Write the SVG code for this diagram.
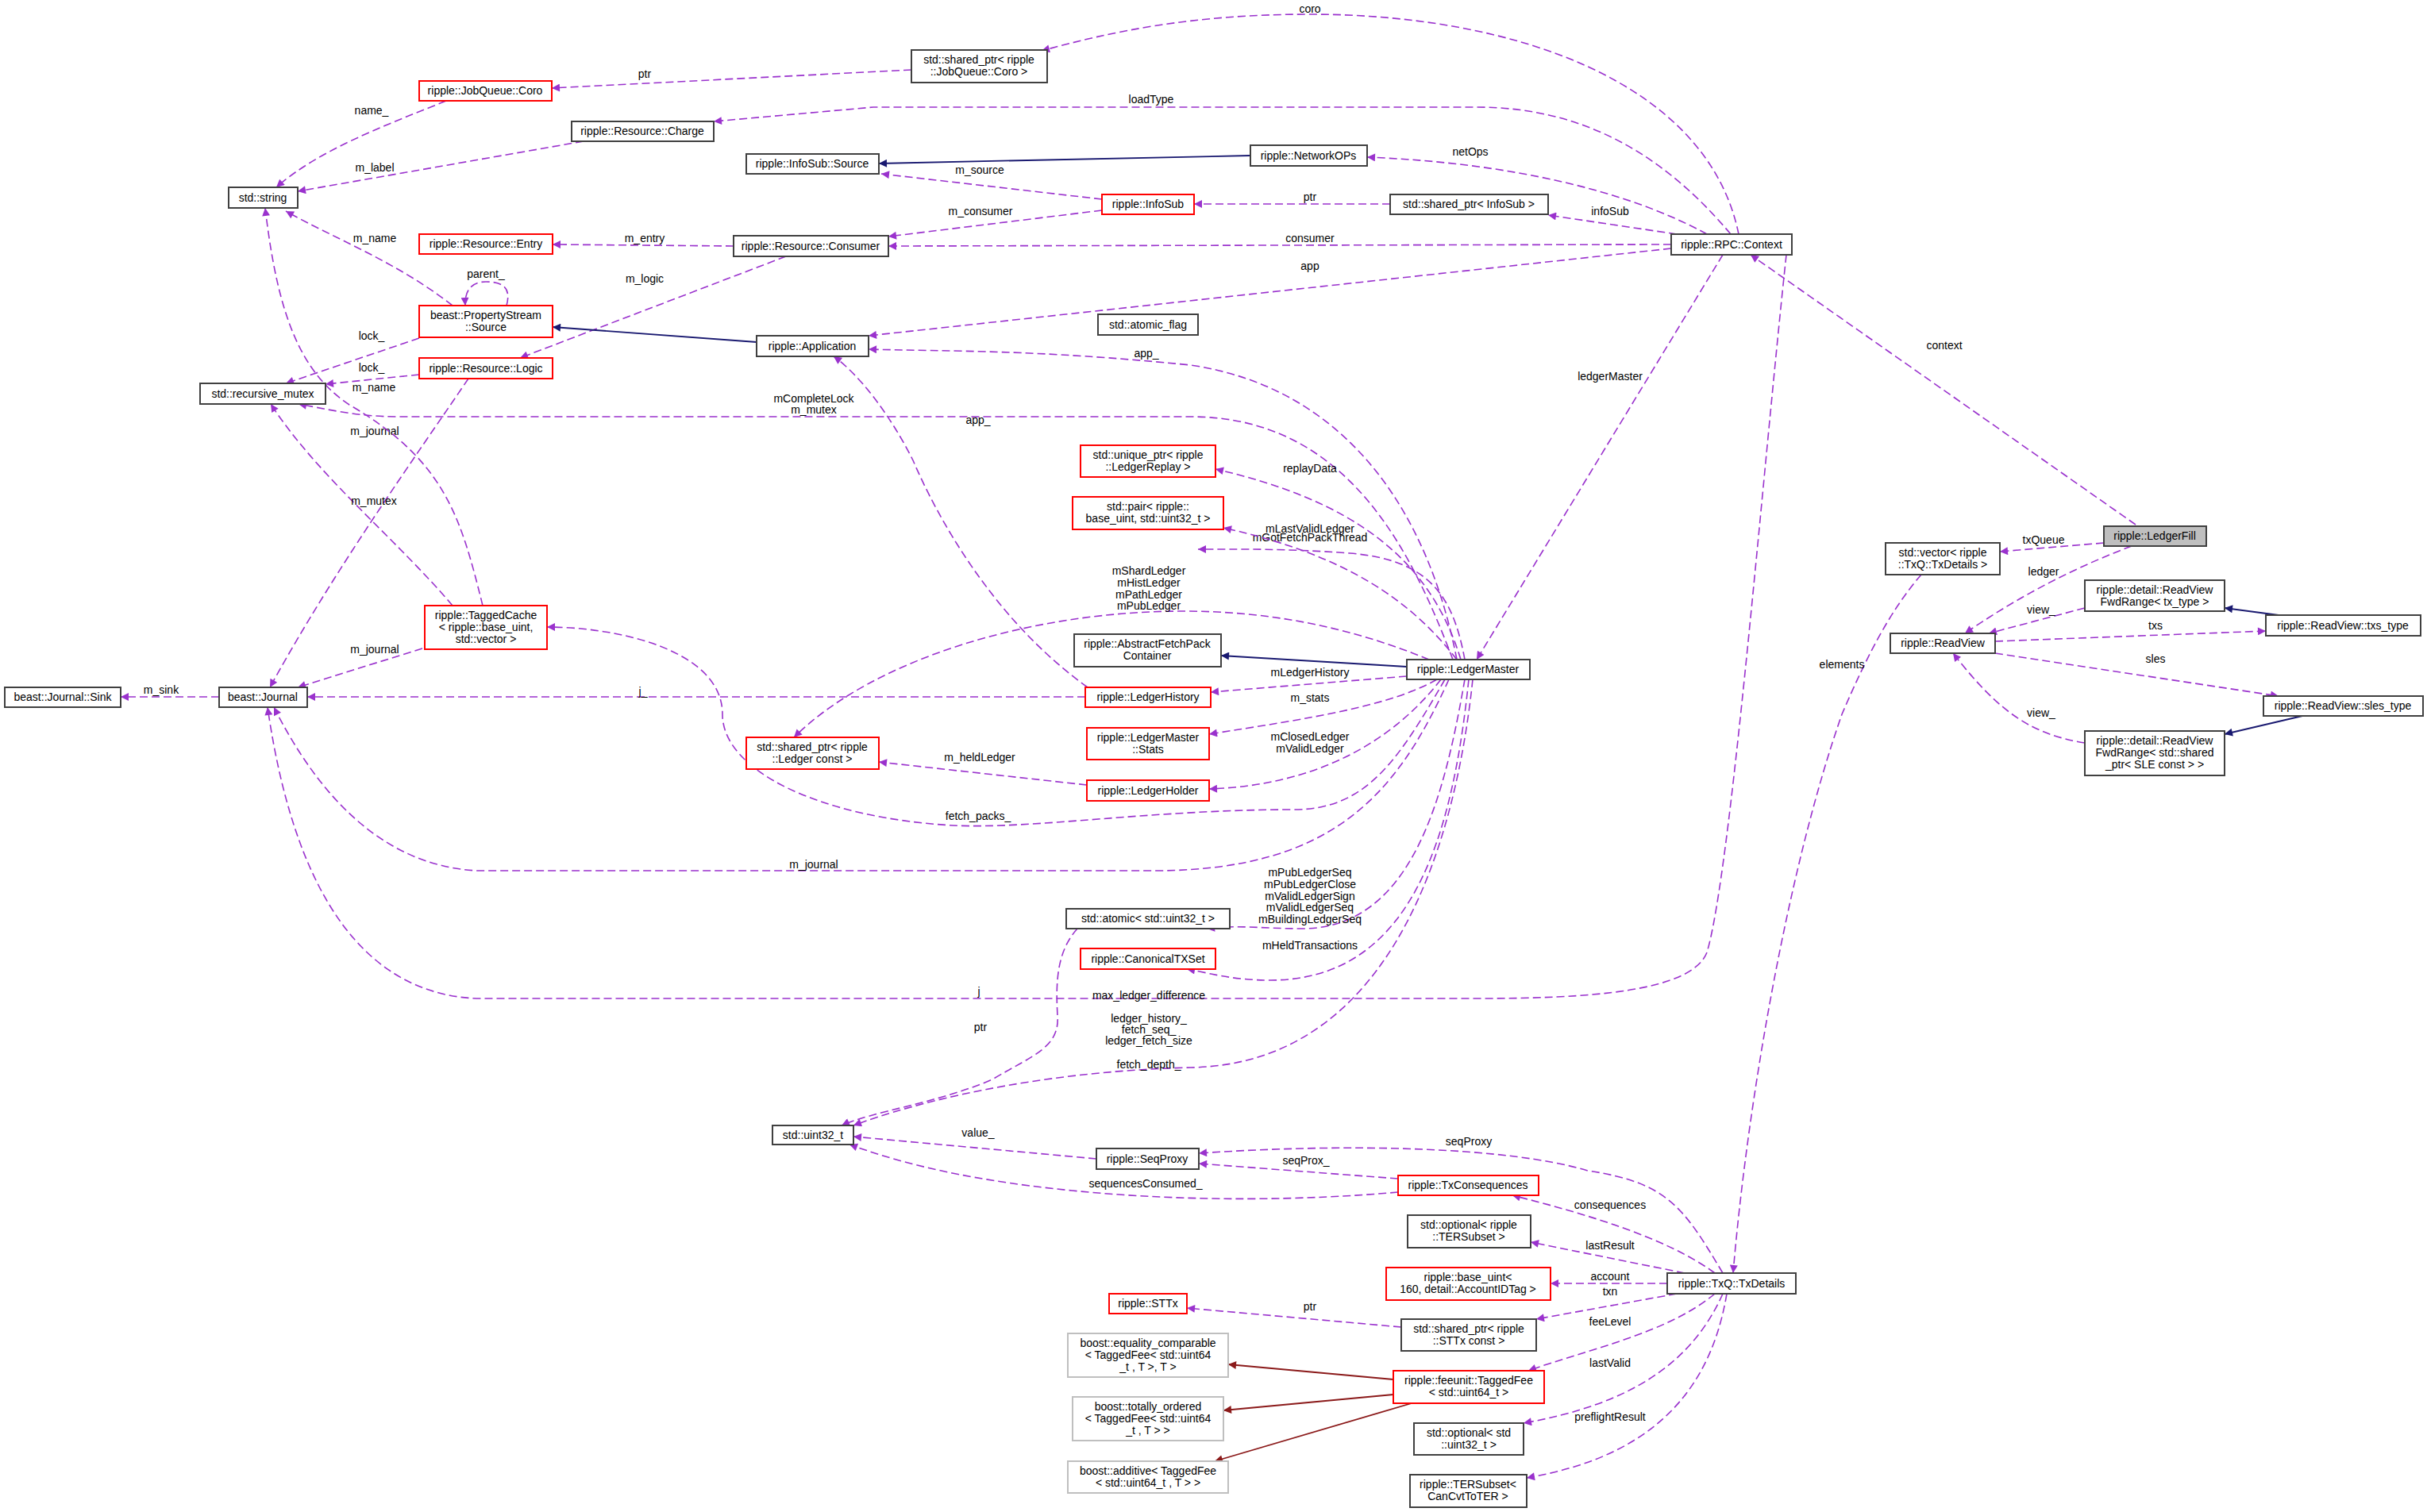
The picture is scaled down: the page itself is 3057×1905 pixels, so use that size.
<svg xmlns="http://www.w3.org/2000/svg" width="3057" height="1905" viewBox="0 0 3057 1905">
<style>
text{font-family:"Liberation Sans",Arial,sans-serif;font-size:14px;fill:#000}
.n rect{fill:#fff;stroke:#404040;stroke-width:2}
.r rect{stroke:#ff0000}
.g rect{stroke:#bfbfbf}
.f rect{fill:#bfbfbf}
.n text{text-anchor:middle}
.u{fill:none;stroke:#9a32cd;stroke-width:1.6;stroke-dasharray:10,5;marker-end:url(#au)}
.i{fill:none;stroke:#191970;stroke-width:1.8;marker-end:url(#ai)}
.t{fill:none;stroke:#8b1a1a;stroke-width:1.8;marker-end:url(#at)}
.l{text-anchor:middle}
</style>
<defs>
<marker id="au" viewBox="0 0 10 10" refX="10" refY="5" markerWidth="14" markerHeight="10" markerUnits="userSpaceOnUse" orient="auto"><path d="M0,0L10,5L0,10z" fill="#9a32cd"/></marker>
<marker id="ai" viewBox="0 0 10 10" refX="10" refY="5" markerWidth="14" markerHeight="10" markerUnits="userSpaceOnUse" orient="auto"><path d="M0,0L10,5L0,10z" fill="#191970"/></marker>
<marker id="at" viewBox="0 0 10 10" refX="10" refY="5" markerWidth="14" markerHeight="10" markerUnits="userSpaceOnUse" orient="auto"><path d="M0,0L10,5L0,10z" fill="#8b1a1a"/></marker>
</defs>
<rect width="3057" height="1905" fill="#fff"/>
<g id="edges">
<path class="u" d="M1148,88 L695,111"/><text x="812" y="98" class="l">ptr</text>
<path class="u" d="M2190,295 C2150,100 1900,18 1650,18 C1500,18 1400,40 1312,64"/><text x="1650" y="16" class="l">coro</text>
<path class="u" d="M2180,295 C2100,200 2000,135 1860,135 L1100,135 L899,153"/><text x="1450" y="130" class="l">loadType</text>
<path class="u" d="M735,178 L375,241"/><text x="472" y="216" class="l">m_label</text>
<path class="u" d="M562,127 C480,160 400,190 348,236"/><text x="468" y="144" class="l">name_</text>
<path class="i" d="M1575,196 L1107,206"/>
<path class="u" d="M2150,295 C2050,240 1900,205 1722,198"/><text x="1852" y="196" class="l">netOps</text>
<path class="u" d="M1388,251 L1110,219"/><text x="1234" y="219" class="l">m_source</text>
<path class="u" d="M1388,265 L1119,298"/><text x="1235" y="271" class="l">m_consumer</text>
<path class="u" d="M1751,257 L1504,257"/><text x="1650" y="253" class="l">ptr</text>
<path class="u" d="M2112,295 L1950,271"/><text x="2028" y="271" class="l">infoSub</text>
<path class="u" d="M2105,308 L1119,310"/><text x="1650" y="305" class="l">consumer</text>
<path class="u" d="M2105,313 L1094,423"/><text x="1650" y="340" class="l">app</text>
<path class="u" d="M924,310 L696,308"/><text x="812" y="305" class="l">m_entry</text>
<path class="u" d="M990,323 L655,451"/><text x="812" y="356" class="l">m_logic</text>
<path class="i" d="M953,431 L696,412"/>
<path class="u" d="M638,385 C645,360 630,355 612,355 C595,355 585,365 586,385"/><text x="612" y="350" class="l">parent_</text>
<path class="u" d="M570,385 C500,330 420,300 360,266"/><text x="472" y="305" class="l">m_name</text>
<path class="u" d="M528,426 L360,483"/><text x="468" y="428" class="l">lock_</text>
<path class="u" d="M528,472 L410,484"/><text x="468" y="468" class="l">lock_</text>
<path class="u" d="M590,477 C520,580 420,720 340,866"/><text x="472" y="548" class="l">m_journal</text>
<path class="u" d="M608,763 C580,650 560,580 440,510 C380,470 350,400 334,262"/><text x="471" y="493" class="l">m_name</text>
<path class="u" d="M570,763 C500,680 400,600 341,509"/><text x="471" y="636" class="l">m_mutex</text>
<path class="u" d="M532,817 L375,866"/><text x="472" y="823" class="l">m_journal</text>
<path class="u" d="M276,878 L152,878"/><text x="203" y="874" class="l">m_sink</text>
<path class="u" d="M1367,878 L387,878"/><text x="810" y="876" class="l">j_</text>
<path class="u" d="M1830,831 C1780,700 1700,525 1500,525 L500,525 C450,525 410,515 376,509"/><text x="1025" y="507" class="l">mCompleteLock</text><text x="1025" y="521" class="l">m_mutex</text>
<path class="u" d="M1835,831 C1800,650 1700,490 1500,460 C1300,440 1200,443 1094,440"/><text x="1444" y="450" class="l">app_</text>
<path class="u" d="M1370,866 C1250,780 1180,650 1150,580 C1120,520 1080,470 1050,449"/><text x="1232" y="534" class="l">app_</text>
<path class="u" d="M1845,831 C1830,750 1800,705 1700,697 C1620,691 1560,692 1509,692"/><text x="1650" y="682" class="l">mGotFetchPackThread</text>
<path class="u" d="M1840,831 C1800,700 1700,630 1531,591"/><text x="1650" y="595" class="l">replayData</text>
<path class="u" d="M1835,831 C1780,760 1700,700 1541,665"/><text x="1650" y="671" class="l">mLastValidLedger</text>
<path class="u" d="M1800,831 C1700,790 1600,770 1490,770 C1300,770 1100,830 1000,929"/><text x="1447" y="724" class="l">mShardLedger</text><text x="1447" y="739" class="l">mHistLedger</text><text x="1447" y="754" class="l">mPathLedger</text><text x="1447" y="768" class="l">mPubLedger</text>
<path class="i" d="M1772,840 L1538,826"/>
<path class="u" d="M1772,852 L1525,872"/><text x="1650" y="852" class="l">mLedgerHistory</text>
<path class="u" d="M1810,856 C1750,890 1650,905 1523,925"/><text x="1650" y="884" class="l">m_stats</text>
<path class="u" d="M1815,856 C1750,940 1650,990 1523,994"/><text x="1650" y="933" class="l">mClosedLedger</text><text x="1650" y="948" class="l">mValidLedger</text>
<path class="u" d="M1369,989 L1107,960"/><text x="1234" y="959" class="l">m_heldLedger</text>
<path class="u" d="M1820,856 C1760,960 1720,1020 1630,1020 C1450,1020 1300,1045 1200,1040 C1030,1030 910,970 910,900 C910,820 780,790 689,790"/><text x="1232" y="1033" class="l">fetch_packs_</text>
<path class="u" d="M1825,856 C1760,1000 1680,1095 1460,1097 L600,1097 C480,1090 400,1000 345,891"/><text x="1025" y="1094" class="l">m_journal</text>
<path class="u" d="M1845,856 C1820,1000 1780,1170 1640,1170 C1590,1170 1560,1165 1520,1170"/><text x="1650" y="1104" class="l">mPubLedgerSeq</text><text x="1650" y="1119" class="l">mPubLedgerClose</text><text x="1650" y="1134" class="l">mValidLedgerSign</text><text x="1650" y="1148" class="l">mValidLedgerSeq</text><text x="1650" y="1163" class="l">mBuildingLedgerSeq</text>
<path class="u" d="M1850,856 C1830,1050 1780,1235 1600,1235 C1550,1235 1520,1225 1495,1221"/><text x="1650" y="1196" class="l">mHeldTransactions</text>
<path class="u" d="M2250,321 C2220,600 2180,1100 2150,1200 C2130,1250 2000,1258 1860,1258 L600,1258 C420,1250 360,1050 337,891"/><text x="1233" y="1254" class="l">j</text>
<path class="u" d="M1855,856 C1840,1000 1780,1340 1500,1345 C1300,1350 1150,1390 1075,1418"/><text x="1447" y="1259" class="l">max_ledger_difference</text><text x="1447" y="1288" class="l">ledger_history_</text><text x="1447" y="1302" class="l">fetch_seq_</text><text x="1447" y="1316" class="l">ledger_fetch_size</text><text x="1447" y="1346" class="l">fetch_depth_</text>
<path class="u" d="M1357,1170 C1330,1200 1330,1240 1332,1280 C1335,1320 1300,1330 1250,1360 C1180,1390 1100,1400 1060,1418"/><text x="1235" y="1299" class="l">ptr</text>
<path class="u" d="M1381,1460 L1075,1432"/><text x="1232" y="1432" class="l">value_</text>
<path class="u" d="M1761,1502 C1650,1512 1500,1515 1350,1500 C1200,1485 1120,1460 1070,1442"/><text x="1443" y="1496" class="l">sequencesConsumed_</text>
<path class="u" d="M1761,1485 L1510,1466"/><text x="1645" y="1467" class="l">seqProx_</text>
<path class="u" d="M2170,1604 C2120,1520 2100,1490 2000,1475 C1900,1445 1700,1440 1510,1453"/><text x="1850" y="1443" class="l">seqProxy</text>
<path class="u" d="M2160,1604 C2100,1560 2000,1530 1905,1506"/><text x="2028" y="1523" class="l">consequences</text>
<path class="u" d="M2122,1604 L1928,1565"/><text x="2028" y="1574" class="l">lastResult</text>
<path class="u" d="M2100,1617 L1953,1617"/><text x="2028" y="1613" class="l">account</text>
<path class="u" d="M2112,1630 L1935,1662"/><text x="2028" y="1632" class="l">txn</text>
<path class="u" d="M1765,1672 L1495,1648"/><text x="1650" y="1651" class="l">ptr</text>
<path class="u" d="M2160,1630 C2100,1680 2000,1700 1925,1727"/><text x="2028" y="1670" class="l">feeLevel</text>
<path class="u" d="M2170,1630 C2130,1720 2050,1770 1919,1793"/><text x="2028" y="1722" class="l">lastValid</text>
<path class="u" d="M2175,1630 C2150,1780 2050,1840 1923,1862"/><text x="2028" y="1790" class="l">preflightResult</text>
<path class="t" d="M1755,1738 L1547,1719"/>
<path class="t" d="M1755,1757 L1541,1777"/>
<path class="t" d="M1778,1768 L1530,1841"/>
<path class="u" d="M2420,724 C2380,770 2350,830 2320,900 C2250,1100 2200,1400 2183,1604"/><text x="2320" y="842" class="l">elements</text>
<path class="u" d="M2690,661 L2205,321"/><text x="2449" y="440" class="l">context</text>
<path class="u" d="M2650,684 L2519,695"/><text x="2574" y="685" class="l">txQueue</text>
<path class="u" d="M2685,688 C2600,720 2530,760 2475,798"/><text x="2574" y="725" class="l">ledger</text>
<path class="u" d="M2626,766 L2505,798"/><text x="2571" y="773" class="l">view_</text>
<path class="u" d="M2513,808 L2854,795"/><text x="2715" y="793" class="l">txs</text>
<path class="u" d="M2513,823 L2870,877"/><text x="2715" y="835" class="l">sles</text>
<path class="u" d="M2626,936 C2560,925 2520,900 2460,823"/><text x="2571" y="903" class="l">view_</text>
<path class="i" d="M2870,775 L2802,766"/>
<path class="i" d="M2900,902 L2802,925"/>
<path class="u" d="M2170,321 L1860,831"/><text x="2028" y="479" class="l">ledgerMaster</text>
</g>
<g id="n_coro" class="n r"><rect x="528" y="102" width="167" height="25"/><text x="611" y="119">ripple::JobQueue::Coro</text></g>
<g id="n_charge" class="n"><rect x="720" y="153" width="179" height="25"/><text x="809" y="170">ripple::Resource::Charge</text></g>
<g id="n_iss" class="n"><rect x="940" y="194" width="167" height="25"/><text x="1023" y="211">ripple::InfoSub::Source</text></g>
<g id="n_string" class="n"><rect x="288" y="236" width="87" height="26"/><text x="331" y="254">std::string</text></g>
<g id="n_entry" class="n r"><rect x="528" y="295" width="168" height="25"/><text x="612" y="312">ripple::Resource::Entry</text></g>
<g id="n_consumer" class="n"><rect x="924" y="297" width="195" height="26"/><text x="1021" y="315">ripple::Resource::Consumer</text></g>
<g id="n_pss" class="n r"><rect x="528" y="385" width="168" height="40"/><text x="612" y="402">beast::PropertyStream</text><text x="612" y="417">::Source</text></g>
<g id="n_logic" class="n r"><rect x="528" y="451" width="168" height="26"/><text x="612" y="469">ripple::Resource::Logic</text></g>
<g id="n_rmutex" class="n"><rect x="252" y="483" width="158" height="26"/><text x="331" y="501">std::recursive_mutex</text></g>
<g id="n_app" class="n"><rect x="953" y="423" width="141" height="26"/><text x="1023" y="441">ripple::Application</text></g>
<g id="n_spcoro" class="n"><rect x="1148" y="63" width="171" height="41"/><text x="1233" y="80">std::shared_ptr&lt; ripple</text><text x="1233" y="95">::JobQueue::Coro &gt;</text></g>
<g id="n_netops" class="n"><rect x="1575" y="183" width="147" height="26"/><text x="1648" y="201">ripple::NetworkOPs</text></g>
<g id="n_infosub" class="n r"><rect x="1388" y="245" width="116" height="25"/><text x="1446" y="262">ripple::InfoSub</text></g>
<g id="n_spinfosub" class="n"><rect x="1751" y="245" width="199" height="25"/><text x="1850" y="262">std::shared_ptr&lt; InfoSub &gt;</text></g>
<g id="n_context" class="n"><rect x="2105" y="295" width="152" height="26"/><text x="2181" y="313">ripple::RPC::Context</text></g>
<g id="n_aflag" class="n"><rect x="1383" y="396" width="126" height="26"/><text x="1446" y="414">std::atomic_flag</text></g>
<g id="n_replay" class="n r"><rect x="1361" y="561" width="170" height="40"/><text x="1446" y="578">std::unique_ptr&lt; ripple</text><text x="1446" y="593">::LedgerReplay &gt;</text></g>
<g id="n_pair" class="n r"><rect x="1351" y="626" width="190" height="41"/><text x="1446" y="643">std::pair&lt; ripple::</text><text x="1446" y="658">base_uint, std::uint32_t &gt;</text></g>
<g id="n_tcache" class="n r"><rect x="535" y="763" width="154" height="55"/><text x="612" y="780">ripple::TaggedCache</text><text x="612" y="795">&lt; ripple::base_uint,</text><text x="612" y="810">std::vector &gt;</text></g>
<g id="n_sink" class="n"><rect x="6" y="866" width="146" height="25"/><text x="79" y="883">beast::Journal::Sink</text></g>
<g id="n_journal" class="n"><rect x="276" y="866" width="111" height="25"/><text x="331" y="883">beast::Journal</text></g>
<g id="n_spledger" class="n r"><rect x="940" y="929" width="167" height="40"/><text x="1023" y="946">std::shared_ptr&lt; ripple</text><text x="1023" y="961">::Ledger const &gt;</text></g>
<g id="n_afp" class="n"><rect x="1353" y="799" width="185" height="41"/><text x="1445" y="816">ripple::AbstractFetchPack</text><text x="1445" y="831">Container</text></g>
<g id="n_lm" class="n"><rect x="1772" y="831" width="155" height="25"/><text x="1849" y="848">ripple::LedgerMaster</text></g>
<g id="n_lhist" class="n r"><rect x="1367" y="866" width="158" height="25"/><text x="1446" y="883">ripple::LedgerHistory</text></g>
<g id="n_stats" class="n r"><rect x="1369" y="917" width="154" height="40"/><text x="1446" y="934">ripple::LedgerMaster</text><text x="1446" y="949">::Stats</text></g>
<g id="n_lholder" class="n r"><rect x="1369" y="983" width="154" height="26"/><text x="1446" y="1001">ripple::LedgerHolder</text></g>
<g id="n_au32" class="n"><rect x="1343" y="1145" width="206" height="25"/><text x="1446" y="1162">std::atomic&lt; std::uint32_t &gt;</text></g>
<g id="n_canon" class="n r"><rect x="1361" y="1195" width="170" height="26"/><text x="1446" y="1213">ripple::CanonicalTXSet</text></g>
<g id="n_u32" class="n"><rect x="973" y="1418" width="102" height="24"/><text x="1024" y="1435">std::uint32_t</text></g>
<g id="n_seqproxy" class="n"><rect x="1381" y="1447" width="129" height="26"/><text x="1445" y="1465">ripple::SeqProxy</text></g>
<g id="n_txcons" class="n r"><rect x="1761" y="1481" width="177" height="25"/><text x="1849" y="1498">ripple::TxConsequences</text></g>
<g id="n_optter" class="n"><rect x="1773" y="1531" width="155" height="41"/><text x="1850" y="1548">std::optional&lt; ripple</text><text x="1850" y="1563">::TERSubset &gt;</text></g>
<g id="n_baseuint" class="n r"><rect x="1746" y="1597" width="207" height="41"/><text x="1849" y="1614">ripple::base_uint&lt;</text><text x="1849" y="1629">160, detail::AccountIDTag &gt;</text></g>
<g id="n_txdetails" class="n"><rect x="2100" y="1604" width="162" height="26"/><text x="2181" y="1622">ripple::TxQ::TxDetails</text></g>
<g id="n_sttx" class="n r"><rect x="1397" y="1630" width="98" height="25"/><text x="1446" y="1647">ripple::STTx</text></g>
<g id="n_spsttx" class="n"><rect x="1765" y="1662" width="170" height="40"/><text x="1850" y="1679">std::shared_ptr&lt; ripple</text><text x="1850" y="1694">::STTx const &gt;</text></g>
<g id="n_eqcomp" class="n g"><rect x="1345" y="1680" width="202" height="55"/><text x="1446" y="1697">boost::equality_comparable</text><text x="1446" y="1712">&lt; TaggedFee&lt; std::uint64</text><text x="1446" y="1727">_t , T &gt;, T &gt;</text></g>
<g id="n_tfee" class="n r"><rect x="1755" y="1727" width="190" height="41"/><text x="1850" y="1744">ripple::feeunit::TaggedFee</text><text x="1850" y="1759">&lt; std::uint64_t &gt;</text></g>
<g id="n_totord" class="n g"><rect x="1351" y="1760" width="190" height="55"/><text x="1446" y="1777">boost::totally_ordered</text><text x="1446" y="1792">&lt; TaggedFee&lt; std::uint64</text><text x="1446" y="1807">_t , T &gt; &gt;</text></g>
<g id="n_optu32" class="n"><rect x="1781" y="1793" width="138" height="40"/><text x="1850" y="1810">std::optional&lt; std</text><text x="1850" y="1825">::uint32_t &gt;</text></g>
<g id="n_additive" class="n g"><rect x="1345" y="1841" width="202" height="40"/><text x="1446" y="1858">boost::additive&lt; TaggedFee</text><text x="1446" y="1873">&lt; std::uint64_t , T &gt; &gt;</text></g>
<g id="n_tercan" class="n"><rect x="1776" y="1858" width="147" height="41"/><text x="1849" y="1875">ripple::TERSubset&lt;</text><text x="1849" y="1890">CanCvtToTER &gt;</text></g>
<g id="n_ledgerfill" class="n f"><rect x="2650" y="663" width="129" height="25"/><text x="2714" y="680">ripple::LedgerFill</text></g>
<g id="n_vectx" class="n"><rect x="2375" y="684" width="144" height="40"/><text x="2447" y="701">std::vector&lt; ripple</text><text x="2447" y="716">::TxQ::TxDetails &gt;</text></g>
<g id="n_readview" class="n"><rect x="2381" y="798" width="132" height="25"/><text x="2447" y="815">ripple::ReadView</text></g>
<g id="n_fwdtx" class="n"><rect x="2626" y="731" width="176" height="39"/><text x="2714" y="748">ripple::detail::ReadView</text><text x="2714" y="763">FwdRange&lt; tx_type &gt;</text></g>
<g id="n_txs" class="n"><rect x="2854" y="775" width="195" height="26"/><text x="2951" y="793">ripple::ReadView::txs_type</text></g>
<g id="n_sles" class="n"><rect x="2851" y="877" width="201" height="25"/><text x="2951" y="894">ripple::ReadView::sles_type</text></g>
<g id="n_fwdsh" class="n"><rect x="2626" y="921" width="176" height="56"/><text x="2714" y="938">ripple::detail::ReadView</text><text x="2714" y="953">FwdRange&lt; std::shared</text><text x="2714" y="968">_ptr&lt; SLE const &gt; &gt;</text></g>
</svg>
